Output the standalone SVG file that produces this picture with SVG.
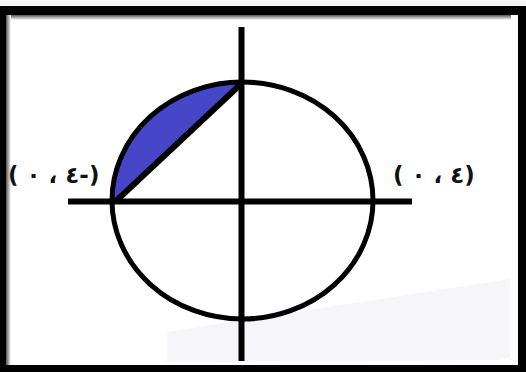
<svg xmlns="http://www.w3.org/2000/svg" width="526" height="372" viewBox="0 0 526 372">
<style>
.ax{stroke:#000;stroke-width:6;fill:none;stroke-linecap:butt}
.lbl{font-family:"DejaVu Sans","Noto Sans",sans-serif;font-size:23px;font-weight:bold;fill:#111;direction:ltr;unicode-bidi:bidi-override}
</style>
<defs>
<linearGradient id="shT" x1="0" y1="0" x2="0" y2="1"><stop offset="0" stop-color="#555"/><stop offset="1" stop-color="#fff"/></linearGradient>
<linearGradient id="shL" x1="0" y1="0" x2="1" y2="0"><stop offset="0" stop-color="#555"/><stop offset="1" stop-color="#fff"/></linearGradient>
</defs>
<g id="frame">
<rect x="0" y="0" width="526" height="6" fill="#f5f5f5"/>
<rect x="0" y="6" width="526" height="366" fill="#000"/>
<rect x="8" y="15" width="510" height="350" fill="#fff"/>
<rect x="8" y="15" width="503" height="5" fill="url(#shT)"/>
<rect x="6" y="15" width="5" height="350" fill="url(#shL)"/>
<polygon points="167,332 510,279 510,357 500,360 167,362" fill="#f5f5fa"/>
</g>
<g id="segment">
<path d="M112,201 A130.5,118.5 0 0 1 242,82 Z" fill="#4646c8"/>
</g>
<g id="circle">
<ellipse cx="242.5" cy="200.5" rx="130.5" ry="118.5" fill="none" stroke="#000" stroke-width="5"/>
</g>
<g id="connectors">
<line class="ax" x1="68" y1="201.5" x2="412" y2="201.5"/>
<line class="ax" x1="241.5" y1="27" x2="241.5" y2="361"/>
<line class="ax" x1="116" y1="201" x2="242" y2="83" stroke-width="9"/>
</g>
<g id="label-left">
<text class="lbl" x="8" y="183">( ٠ ، ٤-)</text>
</g>
<g id="label-right">
<text class="lbl" x="393" y="183">( ٠ ، ٤)</text>
</g>
</svg>
